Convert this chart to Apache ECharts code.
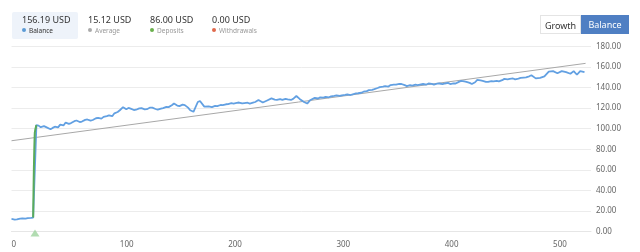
<!DOCTYPE html>
<html>
<head>
<meta charset="utf-8">
<script src="https://cdn.jsdelivr.net/npm/echarts@6/dist/echarts.min.js"></script>
<style>
  html, body { margin:0; padding:0; background:#fff; }
  #wrap { position:relative; width:640px; height:252px; overflow:hidden; font-family:"Noto Sans", sans-serif; }
  #chart { position:absolute; left:0; top:0; width:640px; height:252px; }
  .stat { position:absolute; top:12px; height:27px; }
  .stat .v { position:absolute; top:2px; font-size:9px; color:#333; white-space:nowrap; line-height:12px; }
  .stat .l { position:absolute; top:14px; font-size:6.5px; color:#999; white-space:nowrap; line-height:9px; }
  .stat .l i { display:inline-block; width:4px; height:4px; border-radius:50%; margin-right:3px; vertical-align:1px; }
  #balbox { position:absolute; left:12px; top:12px; width:66px; height:27px; background:#eef3fa; border-radius:2px; }
  .btn { position:absolute; top:15px; height:19px; line-height:19px; font-size:9px; text-align:center; box-sizing:border-box; }
</style>
</head>
<body>
<div id="wrap">
  <div id="chart"></div>
  <div id="balbox"></div>
  <div id="stats"></div>
  <div class="btn" style="left:540px;width:41px;background:#fff;color:#333;border:1px solid #e4e4e4;">Growth</div>
  <div class="btn" style="left:581px;width:48px;background:#4f7fc3;color:#fff;">Balance</div>
</div>
<script>
// ---- summary ----
var statValues = ["156.19 USD", "15.12 USD", "86.00 USD", "0.00 USD"];
var statLabels = ["Balance", "Average", "Deposits", "Withdrawals"];
var statColors = ["#5b9bd5", "#aaaaaa", "#6ab04c", "#e0694c"];

// ---- balance series ----
var balanceX = [0,3,5,8,10,13,15,18,20,23,25,27,28,30,32,33,36,38,40,43,45,48,50,53,55,58,60,63,65,68,70,73,75,78,80,83,85,88,90,93,95,98,100,103,106,108,110,113,115,118,120,123,125,128,130,133,135,138,140,143,145,148,150,153,155,158,160,163,165,168,172,174,178,182,185,188,190,193,195,198,200,203,205,208,210,213,215,218,220,223,225,228,232,236,240,243,245,248,250,253,255,258,260,263,266,270,273,276,280,283,285,288,290,293,295,298,300,303,305,308,310,313,315,318,320,323,325,328,330,333,335,338,340,343,345,348,350,353,355,358,360,363,365,368,370,373,375,378,380,383,385,388,390,393,395,398,400,403,405,408,410,413,415,418,420,423,425,428,430,433,435,438,440,443,445,448,450,453,455,458,460,463,465,468,470,473,475,478,480,484,488,492,496,500,504,508,512,516,519,522,525,529];
var balanceY = [12.2,11.6,11.8,12.6,12.8,12.5,13.0,13.2,13.6,103.5,103.0,101.5,101.0,102.5,101.5,100.0,99.5,100.8,102.0,101.3,104.0,103.2,106.0,104.8,105.5,107.3,108.0,106.5,107.0,108.6,109.0,107.8,108.5,110.2,110.5,109.8,111.5,112.3,113.0,112.2,115.0,116.3,118.0,121.0,119.0,120.2,119.5,118.2,118.5,119.8,120.0,118.8,119.0,120.6,120.5,119.2,118.5,119.6,120.0,121.2,121.0,122.8,124.5,122.5,122.0,123.5,123.0,120.5,118.0,116.5,126.0,127.0,121.5,121.8,121.0,122.2,122.0,123.1,123.0,123.8,124.0,124.8,124.5,125.2,125.5,124.6,125.0,125.3,124.5,125.4,126.0,128.0,125.5,127.5,129.5,128.3,128.0,128.9,128.0,129.0,128.5,128.0,129.0,131.8,129.0,126.0,124.5,128.0,130.0,129.4,130.5,130.2,131.0,130.6,131.5,132.0,132.5,131.9,132.5,133.0,133.5,132.8,133.5,134.3,134.5,135.0,136.0,136.6,137.5,137.9,138.5,139.6,140.5,140.9,141.5,141.0,142.5,142.9,143.0,143.6,143.5,142.4,141.5,142.3,142.0,142.8,142.5,143.2,143.5,143.0,144.0,143.7,143.0,143.9,144.0,143.4,144.0,144.6,143.5,144.2,144.0,145.6,146.5,146.0,145.5,144.6,143.5,145.2,147.5,147.0,146.5,145.6,145.5,146.2,146.0,146.5,146.0,147.2,148.5,148.0,148.5,148.9,148.0,148.8,149.5,149.8,150.0,151.0,152.0,149.0,149.5,151.0,155.5,156.0,154.0,156.0,155.0,153.5,156.0,152.5,156.0,155.0];

// ---- deposit segment ----
var depositX = [20, 21.5, 23];
var depositY = [13.6, 96, 103.5];
var depositMarkX = [21.7];
var depositMarkY = [-1.5];

// ---- average trend ----
var trendX = [0, 530];
var trendY = [88.3, 163.6];

// ---- axes ----
var xTicks = [0, 100, 200, 300, 400, 500];
var yTicks = [0, 20, 40, 60, 80, 100, 120, 140, 160, 180];

function pairs(xs, ys) { return xs.map(function (x, i) { return [x, ys[i]]; }); }

// summary HTML
var statLeft = [22, 88, 150, 212];
var statsEl = document.getElementById('stats');
statValues.forEach(function (v, i) {
  var d = document.createElement('div');
  d.className = 'stat';
  d.style.left = statLeft[i] + 'px';
  d.innerHTML = '<div class="v">' + v + '</div><div class="l" style="color:' + (i === 0 ? '#333' : '#999') + '"><i style="background:' + statColors[i] + '"></i>' + statLabels[i] + '</div>';
  statsEl.appendChild(d);
});

var chart = echarts.init(document.getElementById('chart'), null, { renderer: 'canvas' });
chart.setOption({
  animation: false,
  grid: { left: 11.5, right: 49, top: 46.5, bottom: 20.5, containLabel: false },
  xAxis: {
    type: 'value', min: 0, max: 535, interval: 100,
    offset: 4,
    axisLine: { show: true, lineStyle: { color: '#e6e6e6', width: 1 } },
    axisTick: { show: false },
    splitLine: { show: false },
    axisLabel: {
      color: '#666', fontSize: 8, fontFamily: 'Noto Sans', margin: 5, align: 'left',
      showMaxLabel: false,
      formatter: function (v) { return xTicks.indexOf(v) >= 0 ? String(v) : ''; }
    }
  },
  yAxis: {
    type: 'value', position: 'right', min: 0, max: 180, interval: 20,
    axisLine: { show: false }, axisTick: { show: false },
    splitLine: { lineStyle: { color: '#ececec', width: 1 } },
    axisLabel: {
      color: '#666', fontSize: 8, fontFamily: 'Noto Sans', margin: 5,
      formatter: function (v) { return yTicks.indexOf(v) >= 0 ? v.toFixed(2) : ''; }
    }
  },
  series: [
    { type: 'line', data: pairs(trendX, trendY), symbol: 'none', lineStyle: { color: '#a8a8a8', width: 1 }, z: 2 },
    { type: 'line', data: pairs(balanceX, balanceY), symbol: 'none', lineStyle: { color: '#62a0e2', width: 1.8 }, z: 3 },
    { type: 'line', data: pairs(depositX, depositY), symbol: 'none', smooth: 0.3, lineStyle: { color: '#5aab5a', width: 2 }, z: 4 },
    { type: 'scatter', data: pairs(depositMarkX, depositMarkY), symbol: 'triangle', symbolSize: [9, 7], clip: false, itemStyle: { color: '#9fd39f' }, z: 5 }
  ]
});
</script>
</body>
</html>
